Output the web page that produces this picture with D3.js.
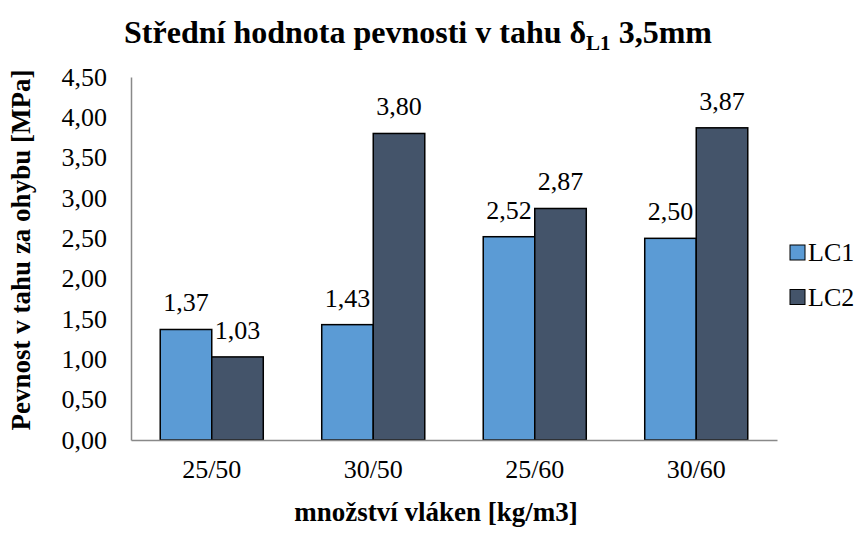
<!DOCTYPE html>
<html>
<head>
<meta charset="utf-8">
<script src="https://cdn.jsdelivr.net/npm/d3@7"></script>
<style>
  body { margin: 0; background: #fff; }
</style>
</head>
<body>
<script>
// chart size
var w = 861;
var h = 533;

// data
var categories = ["25/50", "30/50", "25/60", "30/60"];
var seriesNames = ["LC1", "LC2"];
var lc1 = [1.37, 1.43, 2.52, 2.50];
var lc2 = [1.03, 3.80, 2.87, 3.87];
var yTicks = [0, 0.5, 1, 1.5, 2, 2.5, 3, 3.5, 4, 4.5];
var colors = ["#5B9BD5", "#44546A"];

// plot area edges
var pLeft = 131, pRight = 777, pTop = 77, pBottom = 440;
var serif = "Liberation Serif";

var svg = d3.select("body")
            .append("svg")
            .attr("width", w)
            .attr("height", h)
            .attr("font-family", serif);

var fmt = function(v) { return v.toFixed(2).replace(".", ","); };

// scales
var x0 = d3.scaleBand()
           .domain(categories)
           .range([pLeft, pRight])
           .paddingInner(0.362)
           .paddingOuter(0.181);

var x1 = d3.scaleBand()
           .domain(seriesNames)
           .range([0, x0.bandwidth()]);

var yScale = d3.scaleLinear()
               .domain([0, 4.5])
               .range([pBottom, pTop]);

// title
var title = svg.append("text")
   .attr("x", 418)
   .attr("y", 43)
   .attr("text-anchor", "middle")
   .attr("font-family", serif)
   .attr("font-size", "32px")
   .attr("font-weight", "bold");
title.append("tspan").text("Střední hodnota pevnosti v tahu  δ");
title.append("tspan").attr("font-size", "21px").attr("dy", 7).text("L1");
title.append("tspan").attr("dy", -7).text(" 3,5mm");

// y axis
var yAxis = d3.axisLeft(yScale)
              .tickValues(yTicks)
              .tickFormat(fmt)
              .tickSize(0)
              .tickPadding(24);

var gy = svg.append("g")
   .attr("transform", "translate(" + pLeft + ",0)")
   .call(yAxis);
gy.select(".domain").attr("stroke", "#898989").attr("stroke-width", 1.5);
gy.selectAll("text")
  .attr("font-family", serif)
  .attr("font-size", "26px")
  .attr("fill", "#000");

// bars
var groups = svg.selectAll(".grp")
   .data(categories)
   .enter()
   .append("g")
   .attr("transform", function(d) { return "translate(" + x0(d) + ",0)"; });

groups.selectAll("rect")
   .data(function(d, i) { return [{s: "LC1", v: lc1[i]}, {s: "LC2", v: lc2[i]}]; })
   .enter()
   .append("rect")
   .attr("x", function(d) { return x1(d.s); })
   .attr("y", function(d) { return yScale(d.v); })
   .attr("width", x1.bandwidth())
   .attr("height", function(d) { return pBottom - yScale(d.v); })
   .attr("fill", function(d, i) { return colors[i]; })
   .attr("stroke", "#000")
   .attr("stroke-width", 1.5);

groups.selectAll(".label")
   .data(function(d, i) { return [{s: "LC1", v: lc1[i]}, {s: "LC2", v: lc2[i]}]; })
   .enter()
   .append("text")
   .attr("x", function(d) { return x1(d.s) + x1.bandwidth() / 2; })
   .attr("y", function(d) { return yScale(d.v) - 18; })
   .attr("text-anchor", "middle")
   .attr("font-family", serif)
   .attr("font-size", "26px")
   .text(function(d) { return fmt(d.v); });

// x axis
var xAxis = d3.axisBottom(x0)
              .tickSize(0)
              .tickPadding(20);

var gx = svg.append("g")
   .attr("transform", "translate(0," + pBottom + ")")
   .call(xAxis);
gx.select(".domain").attr("stroke", "#898989").attr("stroke-width", 1.5);
gx.selectAll("text")
  .attr("font-family", serif)
  .attr("font-size", "26px")
  .attr("fill", "#000");

// axis titles
svg.append("text")
   .attr("x", 436)
   .attr("y", 521)
   .attr("text-anchor", "middle")
   .attr("font-family", serif)
   .attr("font-size", "27px")
   .attr("font-weight", "bold")
   .text("množství vláken [kg/m3]");

svg.append("text")
   .attr("transform", "rotate(-90)")
   .attr("x", -250)
   .attr("y", 30)
   .attr("text-anchor", "middle")
   .attr("font-family", serif)
   .attr("font-size", "27px")
   .attr("font-weight", "bold")
   .text("Pevnost v tahu za ohybu [MPa]");

// legend
var legend = svg.selectAll(".legend")
   .data(seriesNames)
   .enter()
   .append("g")
   .attr("transform", function(d, i) { return "translate(790," + (245 + i * 44.5) + ")"; });

legend.append("rect")
   .attr("width", 15)
   .attr("height", 15)
   .attr("fill", function(d, i) { return colors[i]; })
   .attr("stroke", "#000")
   .attr("stroke-width", 1);

legend.append("text")
   .attr("x", 18)
   .attr("y", 16)
   .attr("font-family", serif)
   .attr("font-size", "26px")
   .text(function(d) { return d; });
</script>
</body>
</html>
